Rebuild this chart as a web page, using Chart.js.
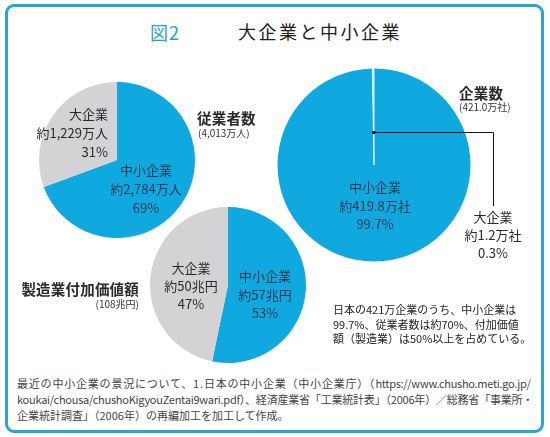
<!DOCTYPE html>
<html lang="ja">
<head>
<meta charset="utf-8">
<script src="https://cdn.jsdelivr.net/npm/chart.js@4"></script>
<style>
  html,body{margin:0;padding:0;background:#fff;}
  body{width:550px;height:437px;position:relative;overflow:hidden;font-family:"Noto Sans CJK JP","Noto Sans",sans-serif;color:#2a2a2a;}
  .frame{position:absolute;left:5px;top:4px;width:533px;height:423px;border:3px solid #2ba6d2;border-radius:9px;}
  .t{position:absolute;white-space:nowrap;}
  .c{transform:translate(-50%,-50%);text-align:center;}
  .r{transform:translate(-100%,-50%);text-align:right;}
  .l{transform:translate(0,-50%);}
  .lbl{font-size:13px;line-height:19px;}
  .inblue{color:#1d3852;}
  .bold{font-weight:bold;font-size:14.5px;letter-spacing:0.2px;}
  .small{font-size:10px;color:#333;}
  canvas{position:absolute;}
  .note{position:absolute;left:333px;top:302px;font-size:11px;line-height:14.5px;color:#222;white-space:nowrap;}
  .foot{position:absolute;left:17px;top:375px;font-size:11px;line-height:16px;color:#444;white-space:nowrap;}
</style>
</head>
<body>
<div class="frame"></div>
<div class="t" style="left:150px;top:19px;font-size:18px;color:#2aa2cf;letter-spacing:1px;">図2</div>
<div class="t" id="title" style="left:238px;top:18px;font-size:18px;color:#222;letter-spacing:2.5px;">大企業と中小企業</div>

<canvas id="c1"></canvas>
<canvas id="c2"></canvas>
<canvas id="c3"></canvas>

<div id="labels"></div>

<div class="note">日本の421万企業のうち、中小企業は<br>99.7%、従業者数は約70%、付加価値<br>額（製造業）は50%以上を占めている。</div>
<div class="foot"><span style="letter-spacing:0.8px">最近の中小企業の景況について、1.日本の中小企業（中小企業庁）（</span><span style="letter-spacing:-0.3px">https://www.chusho.meti.go.jp/</span><br><span style="letter-spacing:-0.25px">koukai/chousa/chushoKigyouZentai9wari.pdf）</span><span style="letter-spacing:-0.2px">、経済産業省「工業統計表」（2006年）／総務省「事業所・</span><br>企業統計調査」（2006年）の再編加工を加工して作成。</div>

<script>
// ---- data ----
const categories = ['中小企業', '大企業'];
const employees = [2784, 1229];          // 万人
const employeePct = [69, 31];
const employeeTotal = '4,013万人';
const companies = [419.8, 1.2];          // 万社
const companyPct = [99.7, 0.3];
const companyTotal = '421.0万社';
const valueAdded = [57, 50];             // 兆円
const valuePct = [53, 47];
const valueTotal = '108兆円';

const BLUE = '#0fa9df';
const GRAY = '#d3d3d5';

function fmt(n){ return n.toLocaleString('en-US'); }

function pie(id, left, top, w, h, pad, data){
  const cv = document.getElementById(id);
  cv.width = w; cv.height = h;
  cv.style.left = left + 'px'; cv.style.top = top + 'px';
  cv.style.width = w + 'px'; cv.style.height = h + 'px';
  return new Chart(cv, {
    type: 'pie',
    data: { labels: categories, datasets: [{
      data: data, backgroundColor: [BLUE, GRAY], borderWidth: 0
    }]},
    options: {
      responsive: false, animation: false,
      events: [],
      layout: { padding: pad },
      plugins: { legend: { display: false }, tooltip: { enabled: false } }
    }
  });
}

// employees pie
pie('c1', 39, 82, 156, 156, 0, employees);
// value added pie
pie('c3', 150, 207, 156, 156, 0, valueAdded);
// companies pie with leader line
const leader = {
  id: 'leader',
  afterDraw(chart){
    const arc = chart.getDatasetMeta(0).data[1];
    const mid = (arc.startAngle + arc.endAngle) / 2;
    const rr = arc.outerRadius * 0.34;
    const x0 = arc.x + Math.cos(mid) * rr, y0 = arc.y + Math.sin(mid) * rr;
    const x1 = 223, y1 = 146;
    const ctx = chart.ctx;
    ctx.save();
    ctx.strokeStyle = '#111'; ctx.lineWidth = 1;
    ctx.beginPath();
    ctx.moveTo(x0, Math.round(y0) + 0.5);
    ctx.lineTo(x1 + 0.5, Math.round(y0) + 0.5);
    ctx.lineTo(x1 + 0.5, y1);
    ctx.stroke();
    ctx.fillStyle = '#111';
    ctx.fillRect(x0 - 1.5, Math.round(y0) - 1, 3, 3);
    ctx.restore();
  }
};
(function(){
  const cv = document.getElementById('c2');
  cv.width = 260; cv.height = 210;
  cv.style.left = '270px'; cv.style.top = '60px';
  cv.style.width = '260px'; cv.style.height = '210px';
  new Chart(cv, {
    type: 'pie',
    data: { labels: categories, datasets: [{
      data: companies, backgroundColor: [BLUE, '#cfe9f3'],
      borderColor: [BLUE, '#e4f3f9'], borderWidth: [0, 1]
    }]},
    options: {
      responsive: false, animation: false, events: [],
      layout: { padding: { left: 7, right: 59, top: 8, bottom: 8 } },
      plugins: { legend: { display: false }, tooltip: { enabled: false } }
    },
    plugins: [leader]
  });
})();

// ---- labels ----
const L = document.getElementById('labels');
function add(cls, x, y, html, style){
  const d = document.createElement('div');
  d.className = 't ' + cls;
  d.style.left = x + 'px'; d.style.top = y + 'px';
  if (style) d.style.cssText += style;
  d.innerHTML = html;
  L.appendChild(d);
}
// employees
add('r lbl', 108, 132, categories[1] + '<br>約' + fmt(employees[1]) + '万人<br>' + employeePct[1] + '%');
add('c lbl inblue', 146, 188, categories[0] + '<br>約' + fmt(employees[0]) + '万人<br>' + employeePct[0] + '%');
add('l bold', 197, 117, '従業者数');
add('l small', 198, 132, '(' + employeeTotal + ')');
// companies
add('c lbl inblue', 375, 206, categories[0] + '<br>約' + companies[0] + '万社<br>' + companyPct[0] + '%', 'line-height:18.5px;');
add('c lbl', 493, 235, categories[1] + '<br>約' + companies[1] + '万社<br>' + companyPct[1] + '%', 'line-height:18px;');
add('l bold', 459, 92, '企業数');
add('l small', 459, 106, '(' + companyTotal + ')');
// value added
add('c lbl', 191, 286, categories[1] + '<br>約' + valueAdded[1] + '兆円<br>' + valuePct[1] + '%', 'line-height:18px;');
add('c lbl inblue', 265, 295, categories[0] + '<br>約' + valueAdded[0] + '兆円<br>' + valuePct[0] + '%', 'line-height:18.5px;');
add('r bold', 139, 288, '製造業付加価値額');
add('r small', 139, 303, '(' + valueTotal + ')');
</script>
</body>
</html>
